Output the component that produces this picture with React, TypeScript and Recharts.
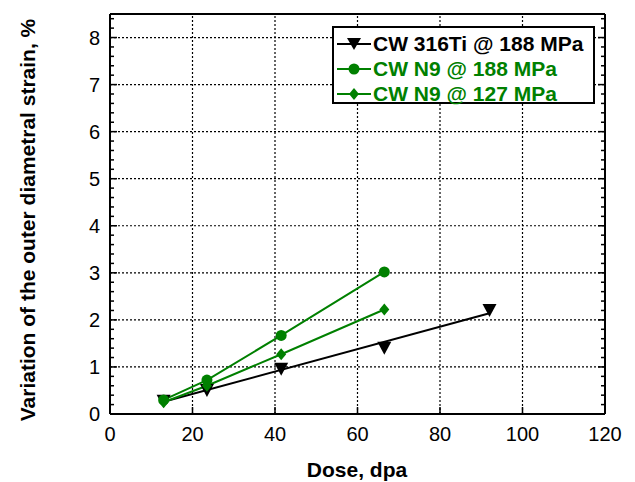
import { ComposedChart, Line, Scatter, XAxis, YAxis, ReferenceLine } from "recharts";

const doseTi = [13, 23.5, 41.5, 66.5, 92];
const strainTi = [0.28, 0.51, 0.96, 1.41, 2.21];
const fitDose = [13, 92];
const fitStrain = [0.26, 2.14];
const doseN9 = [13, 23.5, 41.5, 66.5];
const strainN9At188 = [0.3, 0.72, 1.67, 3.02];
const strainN9At127 = [0.25, 0.6, 1.27, 2.22];

const xTicks = [0, 20, 40, 60, 80, 100, 120];
const yMinorTicks = Array.from({ length: 43 }, (_, i) => Math.round(i * 2) / 10);
const xGrid = [20, 40, 60, 80, 100];
const yGrid = [1, 2, 3, 4, 5, 6, 7, 8];

const GREEN = "#008000";
const FONT = "'Liberation Sans', Arial, sans-serif";

const tiData = doseTi.map((x, i) => ({ x, y: strainTi[i] }));
const fitData = fitDose.map((x, i) => ({ x, y: fitStrain[i] }));
const n9High = doseN9.map((x, i) => ({ x, y: strainN9At188[i] }));
const n9Low = doseN9.map((x, i) => ({ x, y: strainN9At127[i] }));

const isMajor = (v: number) => Math.abs(v - Math.round(v)) < 1e-6;

function LeftTick({ x, y, payload }: any) {
  const major = isMajor(payload.value);
  return (
    <g>
      <line x1={x} x2={x + (major ? 7 : 4)} y1={y} y2={y} stroke="#000" strokeWidth={1.5} />
      {major && (
        <text x={x - 10} y={y} dy={7} textAnchor="end" fontSize={20} fontFamily={FONT} fill="#000">
          {payload.value}
        </text>
      )}
    </g>
  );
}

function RightTick({ x, y, payload }: any) {
  const major = isMajor(payload.value);
  return <line x1={x} x2={x - (major ? 7 : 4)} y1={y} y2={y} stroke="#000" strokeWidth={1.5} />;
}

function BottomTick({ x, y, payload }: any) {
  return (
    <g>
      <line x1={x} x2={x} y1={y} y2={y - 7} stroke="#000" strokeWidth={1.5} />
      <text x={x} y={y + 27} textAnchor="middle" fontSize={20} fontFamily={FONT} fill="#000">
        {payload.value}
      </text>
    </g>
  );
}

function TopTick({ x, y }: any) {
  return <line x1={x} x2={x} y1={y} y2={y + 7} stroke="#000" strokeWidth={1.5} />;
}

function Triangle({ cx, cy }: any) {
  if (cx == null) return null;
  return <polygon points={`${cx - 7},${cy - 6} ${cx + 7},${cy - 6} ${cx},${cy + 7}`} fill="#000" />;
}

function CircleDot({ cx, cy }: any) {
  return <circle key={`c${cx}`} cx={cx} cy={cy} r={5.5} fill={GREEN} />;
}

function DiamondDot({ cx, cy }: any) {
  return (
    <polygon
      key={`d${cx}`}
      points={`${cx},${cy - 6} ${cx + 5},${cy} ${cx},${cy + 6} ${cx - 5},${cy}`}
      fill={GREEN}
    />
  );
}

const legendItems = [
  { label: "CW 316Ti @ 188 MPa", color: "#000", marker: "tri" },
  { label: "CW N9 @ 188 MPa", color: GREEN, marker: "circle" },
  { label: "CW N9 @ 127 MPa", color: GREEN, marker: "diamond" },
];

function LegendBox() {
  return (
    <div
      style={{
        position: "absolute",
        left: 332,
        top: 26,
        width: 263,
        height: 78,
        border: "2px solid #000",
        background: "#fff",
        fontFamily: FONT,
        fontWeight: "bold",
        fontSize: 21,
        boxSizing: "border-box",
      }}
    >
      {legendItems.map((item, i) => (
        <div key={i} style={{ display: "flex", alignItems: "center", height: 25, marginTop: i === 0 ? 3 : 0 }}>
          <svg width={38} height={20} style={{ marginLeft: 1, flexShrink: 0 }}>
            <line x1={2} x2={36} y1={10} y2={10} stroke={item.color} strokeWidth={2} />
            {item.marker === "tri" && <polygon points="12,4 26,4 19,16" fill={item.color} />}
            {item.marker === "circle" && <circle cx={19} cy={10} r={5.5} fill={item.color} />}
            {item.marker === "diamond" && <polygon points="19,4 24,10 19,16 14,10" fill={item.color} />}
          </svg>
          <span style={{ color: item.color, marginLeft: 0, whiteSpace: "nowrap" }}>{item.label}</span>
        </div>
      ))}
    </div>
  );
}

export default function App() {
  return (
    <div style={{ position: "absolute", left: 0, top: 0, width: 635, height: 482, background: "#fff" }}>
      <ComposedChart width={635} height={482} margin={{ top: 13, right: 29, bottom: 67, left: 109 }}>
        <XAxis
          xAxisId="b"
          type="number"
          dataKey="x"
          domain={[0, 120]}
          ticks={xTicks}
          interval={0}
          height={1}
          tickSize={0}
          tickMargin={0}
          tick={<BottomTick />}
          axisLine={{ stroke: "#000", strokeWidth: 2 }}
          allowDataOverflow
        />
        <XAxis
          xAxisId="t"
          orientation="top"
          type="number"
          domain={[0, 120]}
          ticks={xTicks}
          interval={0}
          height={1}
          tickSize={0}
          tickMargin={0}
          tick={<TopTick />}
          axisLine={{ stroke: "#000", strokeWidth: 2 }}
          allowDataOverflow
        />
        <YAxis
          yAxisId="l"
          type="number"
          dataKey="y"
          domain={[0, 8.5]}
          ticks={yMinorTicks}
          interval={0}
          width={1}
          tickSize={0}
          tickMargin={0}
          tick={<LeftTick />}
          axisLine={{ stroke: "#000", strokeWidth: 2 }}
          allowDataOverflow
        />
        <YAxis
          yAxisId="r"
          orientation="right"
          type="number"
          domain={[0, 8.5]}
          ticks={yMinorTicks}
          interval={0}
          width={1}
          tickSize={0}
          tickMargin={0}
          tick={<RightTick />}
          axisLine={{ stroke: "#000", strokeWidth: 2 }}
          allowDataOverflow
        />
        {xGrid.map((v) => (
          <ReferenceLine key={`gx${v}`} xAxisId="b" yAxisId="l" x={v} stroke="#000" strokeDasharray="2 2" strokeWidth={1.2} />
        ))}
        {yGrid.map((v) => (
          <ReferenceLine key={`gy${v}`} xAxisId="b" yAxisId="l" y={v} stroke="#000" strokeDasharray="2 2" strokeWidth={1.2} />
        ))}
        <Line
          xAxisId="b"
          yAxisId="l"
          data={fitData}
          dataKey="y"
          type="linear"
          stroke="#000"
          strokeWidth={2}
          dot={false}
          isAnimationActive={false}
        />
        <Scatter
          xAxisId="b"
          yAxisId="l"
          data={tiData}
          dataKey="y"
          shape={<Triangle />}
          isAnimationActive={false}
        />
        <Line
          xAxisId="b"
          yAxisId="l"
          data={n9Low}
          dataKey="y"
          type="linear"
          stroke={GREEN}
          strokeWidth={2}
          dot={<DiamondDot />}
          isAnimationActive={false}
        />
        <Line
          xAxisId="b"
          yAxisId="l"
          data={n9High}
          dataKey="y"
          type="linear"
          stroke={GREEN}
          strokeWidth={2}
          dot={<CircleDot />}
          isAnimationActive={false}
        />
      </ComposedChart>
      <LegendBox />
      <div
        style={{
          position: "absolute",
          left: 357,
          top: 470,
          transform: "translate(-50%, -50%)",
          fontFamily: FONT,
          fontWeight: "bold",
          fontSize: 21,
          whiteSpace: "nowrap",
        }}
      >
        Dose, dpa
      </div>
      <div
        style={{
          position: "absolute",
          left: 28,
          top: 220,
          transform: "translate(-50%, -50%) rotate(-90deg)",
          fontFamily: FONT,
          fontWeight: "bold",
          fontSize: 21,
          whiteSpace: "nowrap",
        }}
      >
        Variation of the outer diametral strain, %
      </div>
    </div>
  );
}
